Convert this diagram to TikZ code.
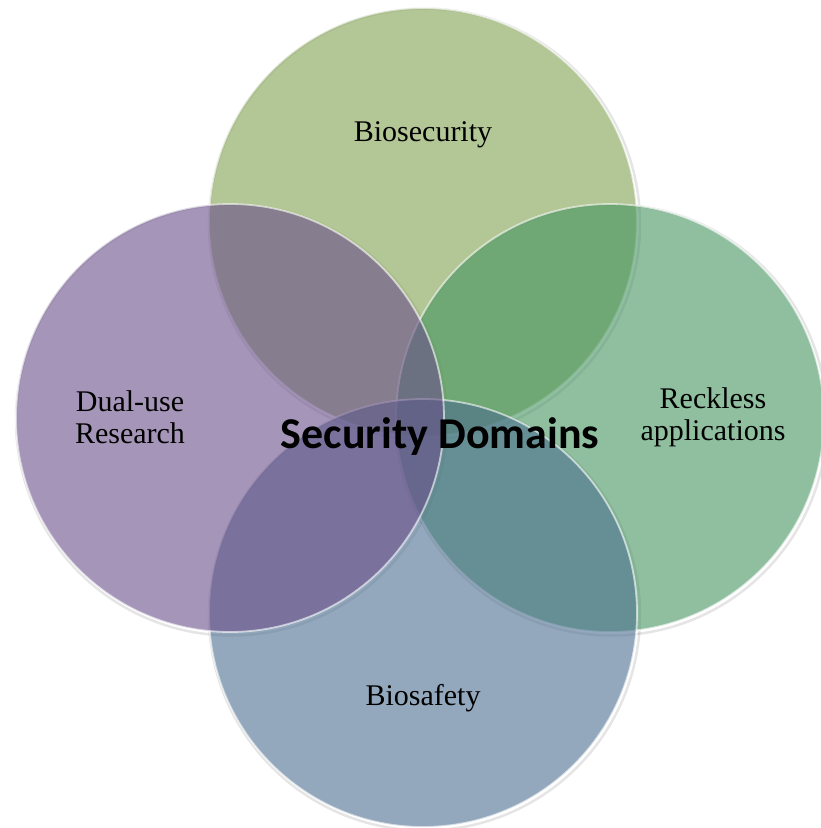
\documentclass[tikz,border=0pt]{standalone}
\usepackage{fontspec}
\setmainfont{Liberation Serif}
\newfontfamily\headfont{Carlito}
\definecolor{secgreen}{RGB}{128,160,78}
\definecolor{dualpurple}{RGB}{105,78,137}
\definecolor{reckgreen}{RGB}{68,148,95}
\definecolor{safeblue}{RGB}{75,110,143}
\begin{document}
\begin{tikzpicture}[x=1pt,y=-1pt,
  areadisc/.style={circle, minimum size=428pt, inner sep=0pt, outer sep=0pt,
    fill opacity=0.6, draw=white, draw opacity=0.6, line width=1.8pt},
  rimshade/.style={circle, minimum size=431pt, inner sep=0pt, draw=black,
    draw opacity=0.10, line width=2.5pt},
  lbl/.style={font=\fontsize{30}{32}\selectfont, align=center, text=black},
  title/.style={font=\headfont\bfseries\fontsize{44}{46}\selectfont, text=black}]
\useasboundingbox (0,0) rectangle (821,828);

% soft outer rims under the discs
\node[rimshade] (secrim)  at (424.5,224) {};
\node[rimshade] (reckrim) at (611.5,420) {};
\node[rimshade] (saferim) at (424.5,615) {};
\node[rimshade] (dualrim) at (231.5,420) {};

% the four translucent domain discs (stacking: top, right, bottom, left)
\node[areadisc, fill=secgreen]   (sec)  at (423,222) {};
\node[areadisc, fill=reckgreen]  (reck) at (610,418) {};
\node[areadisc, fill=safeblue]   (safe) at (423,613) {};
\node[areadisc, fill=dualpurple] (dual) at (230,418) {};

% labels
\node[lbl] (seclb)  at (423,135) {Biosecurity};
\node[lbl] (duallb) at (130,417) {Dual-use\\Research};
\node[lbl] (recklb) at (713,417) {Reckless\\applications};
\node[lbl] (safelb) at (423,698) {Biosafety};
\node[title] (titlelb) at (440,437) {Security Domains};
\end{tikzpicture}
\end{document}
